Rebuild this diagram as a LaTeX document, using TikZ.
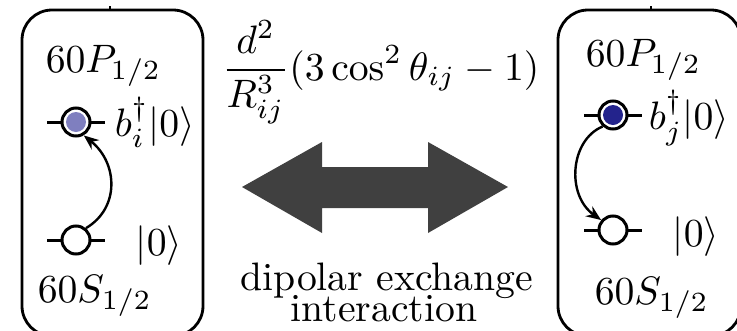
\documentclass[tikz,border=0pt]{standalone}
\usetikzlibrary{arrows.meta}
\definecolor{lavender}{RGB}{127,127,191}
\definecolor{navydot}{RGB}{35,35,140}
\definecolor{bigarrow}{RGB}{64,64,64}
\tikzset{
  txt/.style={inner sep=0pt, font=\normalsize, scale=3.97},
  atombox/.style={draw=black, line width=2.8pt, rounded corners=30pt},
  levelline/.style={line width=3pt},
  levelring/.style={circle, draw=black, fill=white, line width=3pt, minimum size=28pt, inner sep=0pt},
  hop/.style={line width=2.4pt, -{Stealth[length=15pt,width=12pt]}},
}
\begin{document}
\begin{tikzpicture}[x=1pt,y=1pt]
\useasboundingbox (0,0) rectangle (737,-330);
\clip (0,0) rectangle (737,-330);

% ---------- left atom ----------
\draw[atombox] (22,-10) rectangle (203,-336);
\draw[line width=1.5pt] (110,-10) -- (110,-6);
\node[txt, anchor=base west] (lP) at (45,-72) {$60P_{1/2}$};
\coordinate (lul) at (47,-122);
\coordinate (lur) at (105,-122);
\draw[levelline] (lul) -- (lur);
\node[levelring] (lu) at (76,-122) {};
\fill[lavender] (lu.center) circle (10pt);
\node[txt, anchor=base west] (lub) at (114,-136) {$b_i^\dagger|0\rangle$};
\coordinate (lll) at (47,-240);
\coordinate (llr) at (105,-240);
\draw[levelline] (lll) -- (llr);
\node[levelring] (ll) at (76,-240) {};
\node[txt, anchor=base west] (llb) at (135,-255) {$|0\rangle$};
\node[txt, anchor=base west] (lS) at (37,-302) {$60S_{1/2}$};
\draw[hop] (ll.50) .. controls (120,-208) and (118,-163) .. (lu.-60);

% ---------- right atom ----------
\draw[atombox] (558,-10) rectangle (741,-336);
\draw[line width=1.5pt] (651,-10) -- (651,-6);
\node[txt, anchor=base west] (rP) at (585,-66) {$60P_{1/2}$};
\coordinate (rul) at (584,-115);
\coordinate (rur) at (642,-115);
\draw[levelline] (rul) -- (rur);
\node[levelring] (ru) at (613,-115) {};
\fill[navydot] (ru.center) circle (10pt);
\node[txt, anchor=base west] (rub) at (648,-129) {$b_j^\dagger|0\rangle$};
\coordinate (rll) at (584,-230);
\coordinate (rlr) at (642,-230);
\draw[levelline] (rll) -- (rlr);
\node[levelring] (rl) at (613,-230) {};
\node[txt, anchor=base west] (rlb) at (672,-246) {$|0\rangle$};
\node[txt, anchor=base west] (rS) at (594,-304) {$60S_{1/2}$};
\draw[hop] (ru.-132) .. controls (570,-140) and (566,-195) .. (rl.140);

% ---------- middle ----------
\node[txt, anchor=base west] (formula) at (221,-80)
  {$\displaystyle\frac{d^2}{R_{ij}^3}(3\cos^2\theta_{ij}-1)$};
\fill[bigarrow] (242,-187) -- (322,-142) -- (322,-167) -- (428,-167) -- (428,-142)
  -- (508,-187) -- (428,-233) -- (428,-208) -- (322,-208) -- (322,-233) -- cycle;
\node[txt, anchor=base] (dip) at (387,-290) {dipolar exchange};
\node[txt, anchor=base] (inter) at (384,-321) {interaction};
\end{tikzpicture}
\end{document}
